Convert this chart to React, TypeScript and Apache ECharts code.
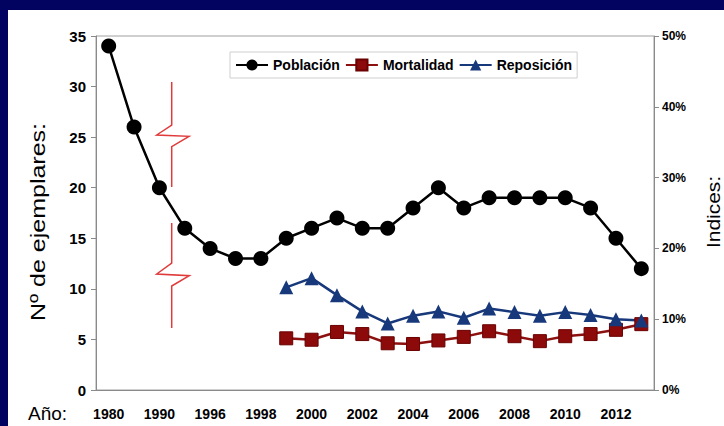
import React, { useEffect, useRef } from "react";
import * as echarts from "echarts";

const years = ["1980","1985","1990","1995","1996","1997","1998","1999","2000","2001","2002","2003","2004","2005","2006","2007","2008","2009","2010","2011","2012","2013"];
const poblacion = [34,26,20,16,14,13,13,15,16,17,16,16,18,20,18,19,19,19,19,18,15,12];
const mortalidad = [null,null,null,null,null,null,null,7.3,7.1,8.2,7.9,6.6,6.5,7.0,7.5,8.3,7.6,6.9,7.6,7.9,8.5,9.3];
const reposicion = [null,null,null,null,null,null,null,14.5,15.8,13.4,11.1,9.4,10.5,11.1,10.2,11.5,11.0,10.5,11.0,10.6,10.0,9.8];
const leftTicks = { min: 0, max: 35, interval: 5 };
const rightTicks = { min: 0, max: 50, interval: 10 };

const NAVY = "#020260";
const AXIS = "#8a8a8a";
const FONT = "Liberation Sans, Arial, sans-serif";

export default function App() {
  const ref = useRef<HTMLDivElement>(null);
  useEffect(() => {
    document.body.style.margin = "0";
    const chart = echarts.init(ref.current!, undefined, { renderer: "svg" });
    const red = "#e03a3a";
    chart.setOption({
      animation: false,
      backgroundColor: "#ffffff",
      textStyle: { fontFamily: FONT },
      grid: { left: 96, right: 70, top: 36, bottom: 36, show: true, borderColor: "#a0a0a0", borderWidth: 1 },
      legend: {
        left: 230, top: 52,
        padding: [6, 5],
        borderColor: "#cfcfcf", borderWidth: 1,
        itemWidth: 32, itemHeight: 14, itemGap: 5,
        textStyle: { fontFamily: FONT, fontWeight: "bold", fontSize: 14, color: "#000" },
        data: ["Población", "Mortalidad", "Reposición"],
      },
      xAxis: {
        type: "category",
        data: years,
        boundaryGap: true,
        axisLine: { lineStyle: { color: AXIS } },
        axisTick: { interval: 0, length: 5, lineStyle: { color: AXIS } },
        axisLabel: { interval: 1, margin: 17, fontFamily: FONT, fontWeight: "bold", fontSize: 14, color: "#000" },
      },
      yAxis: [
        {
          type: "value", ...leftTicks,
          axisLine: { show: true, lineStyle: { color: AXIS } },
          axisTick: { show: true, length: 5, lineStyle: { color: AXIS } },
          splitLine: { show: false },
          axisLabel: { margin: 10, fontFamily: FONT, fontWeight: "bold", fontSize: 15, color: "#000" },
        },
        {
          type: "value", ...rightTicks,
          position: "right",
          axisLine: { show: true, lineStyle: { color: AXIS } },
          axisTick: { show: true, length: 5, lineStyle: { color: AXIS } },
          splitLine: { show: false },
          axisLabel: { margin: 8, formatter: "{value}%", fontFamily: FONT, fontWeight: "bold", fontSize: 12, color: "#000" },
        },
      ],
      series: [
        {
          name: "Población", type: "line", data: poblacion, yAxisIndex: 0,
          symbol: "circle", symbolSize: 15,
          itemStyle: { color: "#000" }, lineStyle: { color: "#000", width: 2.5 },
        },
        {
          name: "Mortalidad", type: "line", data: mortalidad, yAxisIndex: 1,
          symbol: "rect", symbolSize: 13,
          itemStyle: { color: "#8c0a0a", borderColor: "#6a0000", borderWidth: 1 },
          lineStyle: { color: "#8c1010", width: 2.5 },
        },
        {
          name: "Reposición", type: "line", data: reposicion, yAxisIndex: 1,
          symbol: "triangle", symbolSize: 14,
          itemStyle: { color: "#17387a" }, lineStyle: { color: "#17387a", width: 2.5 },
        },
      ],
      graphic: [
        { type: "rect", shape: { x: 0, y: 0, width: 724, height: 10 }, style: { fill: NAVY } },
        { type: "rect", shape: { x: 0, y: 0, width: 8, height: 426 }, style: { fill: NAVY } },
        {
          type: "polyline",
          shape: { points: [[171.7, 82], [171.7, 125], [156.7, 135], [189, 136.3], [171.7, 146.7], [171.7, 187]] },
          style: { stroke: red, lineWidth: 1.5, fill: null },
        },
        {
          type: "polyline",
          shape: { points: [[171.7, 223], [171.7, 263], [156.7, 274], [189.3, 275.7], [171.7, 286], [171.7, 328]] },
          style: { stroke: red, lineWidth: 1.5, fill: null },
        },
        {
          type: "text", x: 38, y: 222, rotation: Math.PI / 2, scaleX: 1.25,
          style: { text: "Nº de ejemplares:", fontFamily: FONT, fontSize: 20, fill: "#000", align: "center", verticalAlign: "middle" },
        },
        {
          type: "text", x: 713, y: 212, rotation: Math.PI / 2, scaleX: 1.1,
          style: { text: "Indices:", fontFamily: FONT, fontSize: 19, fill: "#000", align: "center", verticalAlign: "middle" },
        },
        {
          type: "text", x: 28, y: 413,
          style: { text: "Año:", fontFamily: FONT, fontSize: 19, fill: "#000", align: "left", verticalAlign: "middle" },
        },
      ],
    });
    return () => chart.dispose();
  }, []);
  return <div ref={ref} style={{ position: "absolute", left: 0, top: 0, width: 724, height: 426 }} />;
}
